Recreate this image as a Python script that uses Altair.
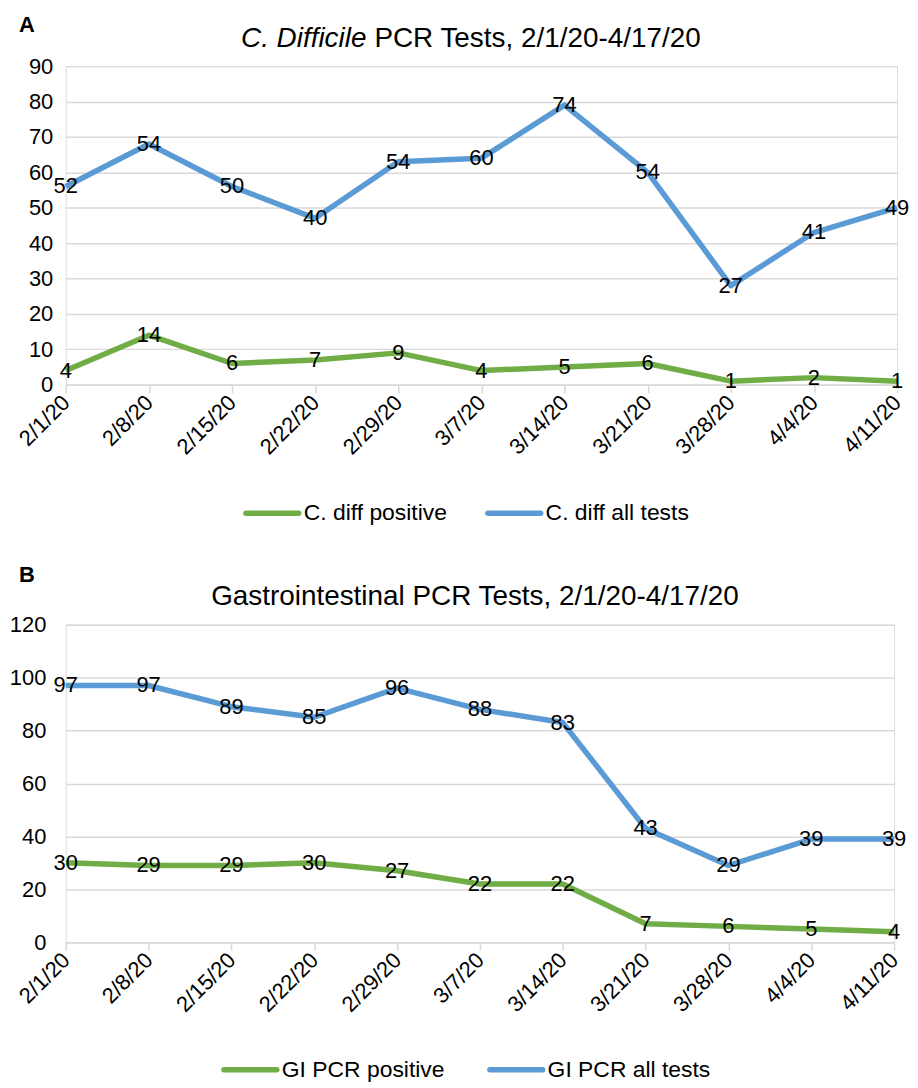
import altair as alt
import pandas as pd

dates = ["2/1/20", "2/8/20", "2/15/20", "2/22/20", "2/29/20", "3/7/20",
         "3/14/20", "3/21/20", "3/28/20", "4/4/20", "4/11/20"]
cdiff_positive = [4, 14, 6, 7, 9, 4, 5, 6, 1, 2, 1]
cdiff_all = [52, 54, 50, 40, 54, 60, 74, 54, 27, 41, 49]
gi_positive = [30, 29, 29, 30, 27, 22, 22, 7, 6, 5, 4]
gi_all = [97, 97, 89, 85, 96, 88, 83, 43, 29, 39, 39]

cdiff_names = ["C. diff positive", "C. diff all tests"]
gi_names = ["GI PCR positive", "GI PCR all tests"]

GREEN = "#70ad47"
BLUE = "#5b9bd5"
GRID = "#d9d9d9"
FONT = "Liberation Sans"
FS = 22


def long_df(pos, allv, names):
    rows = []
    for d, p, a in zip(dates, pos, allv):
        rows.append({"date": d, "series": names[0], "value": p, "k": 0})
        rows.append({"date": d, "series": names[1], "value": a, "k": 1})
    return pd.DataFrame(rows)


def text_layer(txt, x, y, size=28, align="center", style="normal", weight="normal"):
    return alt.Chart(pd.DataFrame({"t": [txt]})).mark_text(
        font=FONT, fontSize=size, align=align, baseline="middle",
        fontStyle=style, fontWeight=weight, color="black"
    ).encode(x=alt.value(x), y=alt.value(y), text="t:N")


def legend_entry(label, color, x, y):
    sym = alt.Chart(pd.DataFrame({"t": [label]})).mark_rule(
        strokeWidth=5.5, strokeCap="round", color=color
    ).encode(x=alt.value(x), x2=alt.value(x + 53), y=alt.value(y))
    txt = text_layer(label, x + 58, y, size=23, align="left")
    return [sym, txt]


def panel(df, names, ymax, ystep, width, height, stacked, ypad, leg, extra):
    base = alt.Chart(df)
    if stacked:
        # Excel stacked line: the "all tests" line sits on top of "positive"
        base = base.transform_joinaggregate(total="sum(value)", groupby=["date"]).transform_calculate(
            ypos="datum.k == 1 ? datum.total : datum.value")
    else:
        base = base.transform_calculate(ypos="datum.value")

    x = alt.X("date:O", sort=dates, scale=alt.Scale(type="point", padding=0),
              axis=alt.Axis(title=None, labelAngle=-45, labelAlign="right", labelBaseline="middle",
                            labelFont=FONT, labelFontSize=FS, labelColor="black",
                            domainColor=GRID, domainWidth=1.5, tickColor=GRID, tickWidth=1.5,
                            tickSize=8, labelPadding=6, grid=False))
    y = alt.Y("ypos:Q", scale=alt.Scale(domain=[0, ymax], nice=False),
              axis=alt.Axis(title=None, values=list(range(0, ymax + 1, ystep)), grid=True,
                            gridColor=GRID, gridWidth=1.5, domain=False, ticks=False,
                            labelFont=FONT, labelFontSize=FS, labelColor="black", labelPadding=ypad))

    lines = base.mark_line(strokeWidth=5.5, strokeJoin="round").encode(
        x=x, y=y,
        color=alt.Color("series:N", scale=alt.Scale(domain=names, range=[GREEN, BLUE]), legend=None),
        order="k:Q",
    )
    labels = base.mark_text(font=FONT, fontSize=FS, color="black", baseline="middle", align="center").encode(
        x=x, y=y, text="value:Q", detail="series:N")
    legend_layers = (legend_entry(names[0], GREEN, leg[0], leg[2]) +
                     legend_entry(names[1], BLUE, leg[1], leg[2]))
    return alt.layer(lines, labels, *extra, *legend_layers).properties(width=width, height=height)


dfA = long_df(cdiff_positive, cdiff_all, cdiff_names)
dfB = long_df(gi_positive, gi_all, gi_names)

panelA = panel(dfA, cdiff_names, 90, 10, 835, 320, True, 13, (181, 424, 449), [
    text_layer("A", -39, -41, size=22, weight="bold"),
    text_layer("C. Difficile", 302, -27, align="right", style="italic"),
    text_layer("PCR Tests, 2/1/20-4/17/20", 310, -27, align="left"),
])
panelB = panel(dfB, gi_names, 120, 20, 832, 319, False, 20, (159, 426, 447), [
    text_layer("B", -39, -50, size=22, weight="bold"),
    text_layer("Gastrointestinal PCR Tests, 2/1/20-4/17/20", 411, -28),
])

chart = alt.vconcat(panelA, panelB, spacing=37).resolve_scale(color="independent").properties(
    padding={"top": 3, "left": 0, "right": 0, "bottom": 0}
).configure_view(stroke=None).configure(font=FONT)

chart.save("out.html", embed_options={"renderer": "svg", "actions": False})
